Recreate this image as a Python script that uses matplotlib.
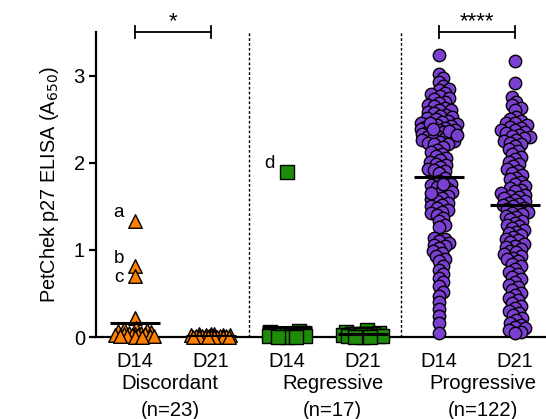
import numpy as np
import matplotlib
matplotlib.use("Agg")
import matplotlib.pyplot as plt

plt.rcParams['font.family'] = ['Liberation Sans', 'DejaVu Sans']

# ---------------- data ----------------
tick_labels = ["D14", "D21", "D14", "D21", "D14", "D21"]
group_names = ["Discordant", "Regressive", "Progressive"]
group_counts = ["(n=23)", "(n=17)", "(n=122)"]

disc_d14 = [1.33, 0.82, 0.70, 0.22, 0.10, 0.09, 0.08, 0.07, 0.06, 0.05, 0.05,
            0.04, 0.03, 0.03, 0.02, 0.02, 0.02, 0.01, 0.01, 0.01, 0.01, 0.00, 0.00]
disc_d21 = [0.04, 0.03, 0.03, 0.02, 0.02, 0.02, 0.02, 0.01, 0.01, 0.01, 0.01, 0.01,
            0.01, 0.01, 0.00, 0.00, 0.00, 0.00, 0.00, 0.00, 0.00, 0.00, 0.00]
regr_d14 = [1.89, 0.07, 0.06, 0.05, 0.04, 0.04, 0.03, 0.03, 0.02, 0.02, 0.02,
            0.01, 0.01, 0.01, 0.00, 0.00, 0.00]
regr_d21 = [0.08, 0.06, 0.05, 0.04, 0.04, 0.03, 0.03, 0.03, 0.02, 0.02, 0.02,
            0.01, 0.01, 0.01, 0.00, 0.00, 0.00]
prog_d14 = [3.24, 3.02, 2.97, 2.93, 2.88,
            2.85, 2.83, 2.80, 2.79, 2.76, 2.74, 2.73, 2.70, 2.69, 2.66, 2.65, 2.63,
            2.61, 2.60, 2.58, 2.57, 2.55, 2.54, 2.52, 2.51, 2.50, 2.48, 2.47, 2.46,
            2.44, 2.43, 2.42, 2.41, 2.40, 2.39, 2.38, 2.37, 2.36, 2.35, 2.34, 2.33,
            2.31, 2.30, 2.29, 2.28, 2.27, 2.26, 2.25, 2.24, 2.23, 2.22, 2.21,
            2.45, 2.39, 2.36, 2.32,
            2.18, 2.15, 2.12, 2.10, 2.08, 2.05, 2.03, 2.01, 1.99, 1.97, 1.95, 1.93,
            1.92, 1.90, 1.88,
            1.82, 1.79, 1.76, 1.74, 1.72, 1.70, 1.68, 1.66, 1.64, 1.62, 1.60, 1.58,
            1.56, 1.54, 1.52, 1.50, 1.48, 1.46, 1.44, 1.42, 1.40, 1.37, 1.33, 1.29,
            1.26, 1.75, 1.65,
            1.14, 1.12, 1.10, 1.08, 1.06, 1.04, 1.02, 0.99, 0.96, 0.93, 0.90, 0.87,
            0.82, 0.77, 0.72, 0.68, 0.63, 0.58, 0.52, 0.47,
            0.40, 0.32, 0.24, 0.16, 0.05]
prog_d21 = [3.17, 2.92,
            2.75, 2.70, 2.66, 2.63, 2.60,
            2.52, 2.50, 2.48, 2.46, 2.45, 2.43, 2.41, 2.40, 2.38, 2.37, 2.35, 2.34,
            2.32, 2.31, 2.29, 2.28, 2.26, 2.25, 2.23, 2.22,
            2.19, 2.16, 2.13, 2.10, 2.07, 2.04, 2.01, 1.98, 1.96, 1.93, 1.91, 1.88,
            1.86, 1.83, 1.81, 1.78, 1.76, 1.73, 1.71, 1.69, 1.67, 1.65, 1.63, 1.62,
            1.61,
            1.59, 1.57, 1.56, 1.54, 1.53, 1.51, 1.50, 1.48, 1.47, 1.45, 1.44, 1.42,
            1.41, 1.39, 1.38,
            1.35, 1.33, 1.31, 1.29, 1.27, 1.25, 1.23, 1.21, 1.19, 1.17, 1.15, 1.13,
            1.11, 1.09, 1.07, 1.05, 1.03, 1.01, 0.99, 0.97, 0.95, 0.93, 0.91, 0.89,
            0.87,
            0.84, 0.81, 0.78, 0.75, 0.72, 0.69, 0.66, 0.63, 0.60, 0.57, 0.54, 0.51,
            0.48, 0.45, 0.42, 0.39, 0.36, 0.33, 0.30, 0.28,
            0.25, 0.22, 0.19, 0.16, 0.14, 0.12, 0.10, 0.08, 0.06, 0.05]
group_means = [0.16, 0.01, 0.11, 0.03, 1.84, 1.52]

series = [disc_d14, disc_d21, regr_d14, regr_d21, prog_d14, prog_d21]
# point annotations: (series index, value, label)
point_labels = [(0, 1.33, "a"), (0, 0.82, "b"), (0, 0.70, "c"), (2, 1.89, "d")]
sig_pairs = [(1, 2, "*"), (5, 6, "****")]

# ---------------- style ----------------
label_offsets = [(-8, 6), (-8, 5), (-8, -1), (-9, 6)]  # points
orange = "#FF8000"
green = "#1E8C0A"
purple = "#7B3FD2"
styles = [("^", orange, 95), ("^", orange, 95), ("s", green, 95), ("s", green, 95),
          ("o", purple, 80), ("o", purple, 80)]
swarm_params = [(7.0, 20.0), (5.0, 20.0), (8.0, 18.0), (7.0, 20.0), (5.5, 19.0), (5.5, 19.0)]

fig = plt.figure(figsize=(5.46, 4.19), dpi=100)
ax = fig.add_axes([96 / 546, (419 - 337) / 419, (546 - 96) / 546, (337 - 32) / 419])
ax.set_xlim(0.487, 6.408)
ax.set_ylim(0, 3.5)

# pixel scale for swarm layout
fig.canvas.draw()
p0 = ax.transData.transform((0, 0))
p1 = ax.transData.transform((1, 1))
px_x = p1[0] - p0[0]
px_y = p1[1] - p0[1]


def swarm(vals, dmin=8.0, maxw=24.0, step=1.5):
    order = np.argsort(vals, kind="stable")
    offs = np.zeros(len(vals))
    placed = []
    cands = [0.0]
    k = 1
    while k * step <= maxw:
        cands += [k * step, -k * step]
        k += 1
    for i in order:
        y = vals[i] * px_y
        best_c, best_d = 0.0, -1
        chosen = None
        for c in cands:
            if placed:
                d = min(np.hypot(c - px, y - py) for px, py in placed)
            else:
                d = 1e9
            if d >= dmin:
                chosen = c
                break
            if d > best_d:
                best_d, best_c = d, c
        if chosen is None:
            chosen = best_c
        placed.append((chosen, y))
        offs[i] = chosen / px_x
    return offs


for i, (vals, (mk, col, s)) in enumerate(zip(series, styles)):
    vals = np.array(vals, dtype=float)
    dmin, maxw = swarm_params[i]
    xo = swarm(vals, dmin=dmin, maxw=maxw)
    ax.scatter(i + 1 + xo, vals, marker=mk, s=s, facecolor=col, edgecolor="black",
               linewidth=1.0, zorder=3, clip_on=False)

for i, m in enumerate(group_means):
    ax.plot([i + 1 - 0.33, i + 1 + 0.33], [m, m], color="black", lw=2.2,
            zorder=4, solid_capstyle="butt")

for (si, v, lab), (dx, dy) in zip(point_labels, label_offsets):
    ax.annotate(lab, xy=(si + 1, v), xytext=(dx, dy), textcoords="offset points",
                ha="right", va="center", fontsize=13.5)

# separators
for xs in (2.5, 4.5):
    ax.plot([xs, xs], [0, 3.5], color="black", lw=1.0, ls=(0, (2, 1.5)), zorder=1,
            clip_on=False)

# significance brackets
for a, b, txt in sig_pairs:
    yb = 3.5
    ax.plot([a, b], [yb, yb], color="black", lw=1.3, clip_on=False)
    for xx in (a, b):
        ax.plot([xx, xx], [yb - 0.07, yb + 0.07], color="black", lw=1.3, clip_on=False)
    ax.annotate(txt, xy=((a + b) / 2, yb), xytext=(0, 0), textcoords="offset points",
                ha="center", va="bottom", fontsize=16)

# axes styling
for sp in ("top", "right"):
    ax.spines[sp].set_visible(False)
ax.spines["left"].set_linewidth(1.6)
ax.spines["bottom"].set_linewidth(1.6)
ax.set_yticks([0, 1, 2, 3])
ax.tick_params(axis="y", direction="out", length=5, width=1.6, labelsize=14.5, pad=3)
ax.set_xticks(range(1, 7))
ax.set_xticklabels(tick_labels)
ax.tick_params(axis="x", length=0, labelsize=14.5, pad=11)
ax.set_ylabel("PetChek p27 ELISA (A$_{650}$)", fontsize=14.3, labelpad=9)

group_x = [1.46, 3.6, 5.58]
for gx, name, cnt in zip(group_x, group_names, group_counts):
    ax.annotate(name, xy=(gx, 0), xycoords=("data", "axes fraction"),
                xytext=(0, -46 * 0.72), textcoords="offset points",
                ha="center", va="center", fontsize=14.6)
    ax.annotate(cnt, xy=(gx, 0), xycoords=("data", "axes fraction"),
                xytext=(0, -73 * 0.72), textcoords="offset points",
                ha="center", va="center", fontsize=14.6)

fig.savefig("out.png", dpi=100)
